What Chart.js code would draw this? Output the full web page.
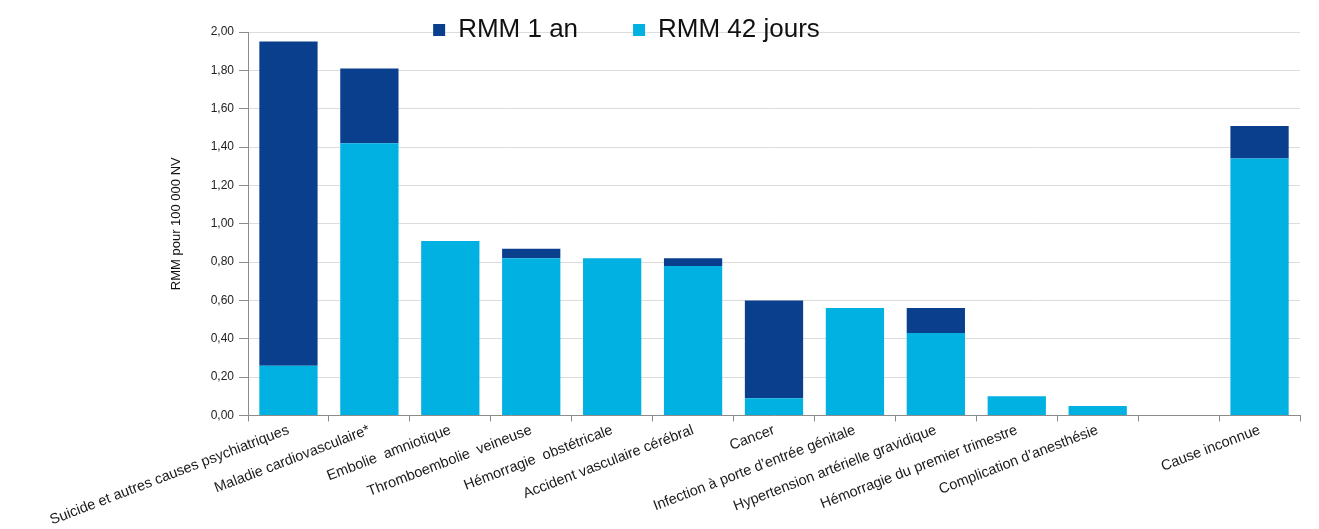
<!DOCTYPE html>
<html>
<head>
<meta charset="utf-8">
<script src="https://cdn.jsdelivr.net/npm/chart.js@4/dist/chart.umd.min.js"></script>
<style>
  html, body { margin: 0; padding: 0; background: #fff; }
  #wrap { width: 1319px; height: 529px; }
</style>
</head>
<body>
<div id="wrap"><canvas id="rmm"></canvas></div>
<script>
const categories = [
    'Suicide et autres causes psychiatriques',
    'Maladie cardiovasculaire*',
    'Embolie  amniotique',
    'Thromboembolie  veineuse',
    'Hémorragie  obstétricale',
    'Accident vasculaire cérébral',
    'Cancer',
    'Infection à porte d\u2019entrée génitale',
    'Hypertension artérielle gravidique',
    'Hémorragie du premier trimestre',
    'Complication d\u2019anesthésie',
    '',
    'Cause inconnue'
];
// RMM 42 jours (lower part of each bar)
const rmm42jours = [0.26, 1.42, 0.91, 0.82, 0.82, 0.78, 0.09, 0.56, 0.43, 0.10, 0.05, null, 1.34];
// part added by RMM 1 an (upper part of each bar)
const rmm1an = [1.69, 0.39, 0, 0.05, 0, 0.04, 0.51, 0, 0.13, 0, 0, null, 0.17];
const yTicks = [0, 0.2, 0.4, 0.6, 0.8, 1.0, 1.2, 1.4, 1.6, 1.8, 2.0];

const darkBlue = '#0a3f8e';
const lightBlue = '#00b1e2';

Chart.defaults.font.family = '"Liberation Sans", Arial, sans-serif';
Chart.defaults.color = '#333';

const LEGEND_PAD = 55;

// legend sits higher and more to the left than chart.js would put it
const moveLegend = {
    id: 'moveLegend',
    afterLayout(chart) {
        const lg = chart.legend;
        lg.top = -38;
        lg.height = 110;
        lg.bottom = lg.top + lg.height;
        lg.left -= 108;
        lg.right -= 108;
    }
};

const ctx = document.getElementById('rmm').getContext('2d');
const chart = new Chart(ctx, {
    type: 'bar',
    data: {
        labels: categories,
        datasets: [{
            label: 'RMM 42 jours',
            data: rmm42jours,
            backgroundColor: lightBlue,
            borderWidth: 0
        }, {
            label: 'RMM 1 an',
            data: rmm1an,
            backgroundColor: darkBlue,
            borderWidth: 0
        }]
    },
    options: {
        responsive: true,
        maintainAspectRatio: false,
        animation: false,
        layout: {
            padding: {left: 169, right: 19, top: 0, bottom: 0}
        },
        plugins: {
            tooltip: {enabled: false},
            legend: {
                reverse: true,
                maxHeight: 32,
                labels: {
                    boxWidth: 12,
                    boxHeight: 12,
                    padding: LEGEND_PAD,
                    color: '#111',
                    font: {size: 26}
                }
            }
        },
        scales: {
            x: {
                stacked: true,
                categoryPercentage: 1,
                barPercentage: 0.66,
                border: {color: '#8c8c8c'},
                grid: {
                    offset: true,
                    drawOnChartArea: false,
                    color: '#8c8c8c',
                    tickLength: 6
                },
                ticks: {
                    minRotation: 21,
                    maxRotation: 21,
                    autoSkip: false,
                    padding: 0,
                    color: '#1a1a1a',
                    font: {size: 14.5}
                }
            },
            y: {
                stacked: true,
                min: 0,
                max: 2,
                afterFit(scale) { scale.width = 79; },
                afterBuildTicks(scale) { scale.ticks = yTicks.map(v => ({value: v})); },
                border: {color: '#8c8c8c'},
                grid: {
                    color: '#dcdcdc',
                    tickColor: '#8c8c8c',
                    tickLength: 9
                },
                ticks: {
                    padding: 5,
                    color: '#222',
                    font: {size: 12},
                    callback: v => v.toFixed(2).replace('.', ',')
                },
                title: {
                    display: true,
                    text: 'RMM pour 100 000 NV',
                    color: '#111',
                    font: {size: 13},
                    padding: {top: 0, bottom: 8}
                }
            }
        }
    },
    plugins: [moveLegend]
});
</script>
</body>
</html>
